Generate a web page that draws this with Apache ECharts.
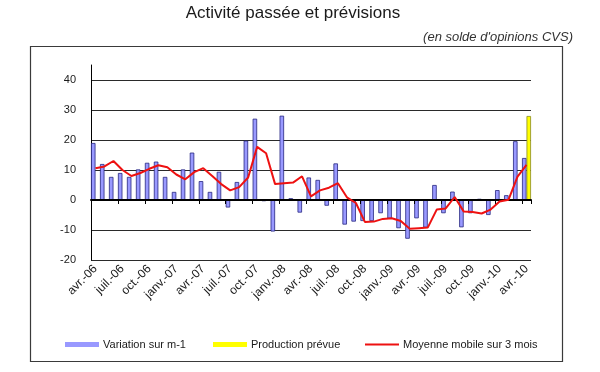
<!DOCTYPE html>
<html>
<head>
<meta charset="utf-8">
<script src="https://cdn.jsdelivr.net/npm/echarts@6/dist/echarts.min.js"></script>
<style>
html,body{margin:0;padding:0;background:#fff;}
#chart{width:600px;height:372px;}
</style>
</head>
<body>
<div id="chart"></div>
<script>
const months = [
  'avr.-06','mai-06','juin-06','juil.-06','août-06','sept.-06','oct.-06','nov.-06','déc.-06',
  'janv.-07','févr.-07','mars-07','avr.-07','mai-07','juin-07','juil.-07','août-07','sept.-07','oct.-07','nov.-07','déc.-07',
  'janv.-08','févr.-08','mars-08','avr.-08','mai-08','juin-08','juil.-08','août-08','sept.-08','oct.-08','nov.-08','déc.-08',
  'janv.-09','févr.-09','mars-09','avr.-09','mai-09','juin-09','juil.-09','août-09','sept.-09','oct.-09','nov.-09','déc.-09',
  'janv.-10','févr.-10','mars-10','avr.-10'
];
const variation = [
  19, 12, 7.7, 9, 7.7, 10.2, 12.4, 12.8, 7.7,
  2.7, 10.2, 15.8, 6.3, 2.7, 9.4, -2.5, 6, 19.8, 27.1, -0.4, -10.5,
  28.1, 0.6, -4.2, 7.5, 6.7, -1.9, 12.2, -8.2, -7.2, -7, -7, -4.4,
  -6.2, -9.4, -12.9, -6.1, -9.2, 5, -4.4, 2.8, -9.1, -4.4, 0.4, -5,
  3.3, 1.6, 19.6, 14
];
const production = [
  null, null, null, null, null, null, null, null, null,
  null, null, null, null, null, null, null, null, null, null, null, null,
  null, null, null, null, null, null, null, null, null, null, null, null,
  null, null, null, null, null, null, null, null, null, null, null, null,
  null, null, null, 28
];
const moyenne = [
  10.6, 11.2, 13, 10, 8, 9, 10.4, 11.6, 10.9,
  8.5, 6.9, 9.3, 10.6, 8, 5.3, 3.2, 4.3, 7.5, 17.7, 15.6, 5.3,
  5.6, 5.8, 7.9, 1.2, 3.2, 4.1, 5.6, 0.9, -1, -7.3, -7.2, -6.3,
  -6.1, -7, -9.6, -9.4, -9.2, -3.2, -2.8, 1, -3.8, -4, -4.5, -3.2,
  -0.5, 0.1, 7.8, 11.7
];
const seriesNames = ['Variation sur m-1', 'Production prévue', 'Moyenne mobile sur 3 mois'];
const titleText = 'Activité passée et prévisions';
const subtitleText = "(en solde d'opinions CVS)";

const FONT = '"Liberation Sans", Arial, sans-serif';
const chart = echarts.init(document.getElementById('chart'), null, {renderer: 'canvas'});

const legendText = {fontFamily: FONT, fontSize: 11, color: '#1a1a1a', padding: [0,0,0,-1]};

chart.setOption({
  animation: false,
  backgroundColor: '#ffffff',
  textStyle: {fontFamily: FONT},
  title: [
    {text: titleText, left: 293, top: 5, textAlign: 'center', padding: 0,
     textStyle: {fontFamily: FONT, fontSize: 17, fontWeight: 'normal', color: '#1a1a1a'}},
    {text: subtitleText, right: 27, top: 31, padding: 0,
     textStyle: {fontFamily: FONT, fontSize: 13, fontStyle: 'italic', fontWeight: 'normal', color: '#333'}}
  ],
  graphic: [
    {type: 'rect', shape: {x: 30.5, y: 46.5, width: 532, height: 315},
     style: {fill: 'none', stroke: '#3a3a3a', lineWidth: 1.2}, silent: true, z: -1}
  ],
  grid: {left: 91, top: 65, width: 440, height: 195, containLabel: false},
  legend: [
    {data: [{name: seriesNames[0], icon: 'rect'}], left: 65, top: 339, itemWidth: 34, itemHeight: 5, padding: 0,
     itemStyle: {borderWidth: 0}, textStyle: legendText},
    {data: [{name: seriesNames[1], icon: 'rect'}], left: 213, top: 339, itemWidth: 34, itemHeight: 5, padding: 0,
     itemStyle: {borderWidth: 0}, textStyle: legendText},
    {data: [{name: seriesNames[2], icon: 'rect'}], left: 365, top: 339, itemWidth: 34, itemHeight: 2, padding: 0,
     itemStyle: {borderWidth: 0}, textStyle: legendText}
  ],
  xAxis: [
    {type: 'category', data: months, position: 'bottom', boundaryGap: true,
     axisLine: {show: true, onZero: true, lineStyle: {color: '#000', width: 2}},
     axisTick: {show: true, interval: 2, length: 4, lineStyle: {color: '#000', width: 1}},
     axisLabel: {show: false}, splitLine: {show: false}, z: 5},
    {type: 'category', data: months, position: 'bottom', boundaryGap: true,
     axisLine: {show: false, onZero: false}, axisTick: {show: false},
     axisLabel: {show: true, interval: 2, rotate: 45, margin: 7, fontFamily: FONT, fontSize: 12, color: '#1a1a1a'},
     splitLine: {show: false}}
  ],
  yAxis: {
    type: 'value', min: -20, max: 45, interval: 10,
    axisLine: {show: true, lineStyle: {color: '#000', width: 1}},
    axisTick: {show: false},
    axisLabel: {margin: 15, fontFamily: FONT, fontSize: 11, color: '#1a1a1a',
      formatter: function (v) { return v === 45 ? '' : String(v); }},
    splitLine: {show: true, showMaxLine: false, lineStyle: {color: '#2a2a2a', width: 1}}
  },
  series: [
    {name: seriesNames[0], type: 'bar', xAxisIndex: 0, data: variation,
     barGap: '0%', barCategoryGap: '0%',
     itemStyle: {color: '#9999ff', borderColor: '#262680', borderWidth: 0.8}, z: 2},
    {name: seriesNames[1], type: 'bar', xAxisIndex: 0, data: production,
     barGap: '0%', barCategoryGap: '0%',
     itemStyle: {color: '#ffff00', borderColor: '#8a8a20', borderWidth: 0.8}, z: 2},
    {name: seriesNames[2], type: 'line', xAxisIndex: 0, data: moyenne,
     symbol: 'none', showSymbol: false, smooth: false,
     lineStyle: {color: '#ee1111', width: 2}, itemStyle: {color: '#ee1111'}, z: 6}
  ]
});
</script>
</body>
</html>
